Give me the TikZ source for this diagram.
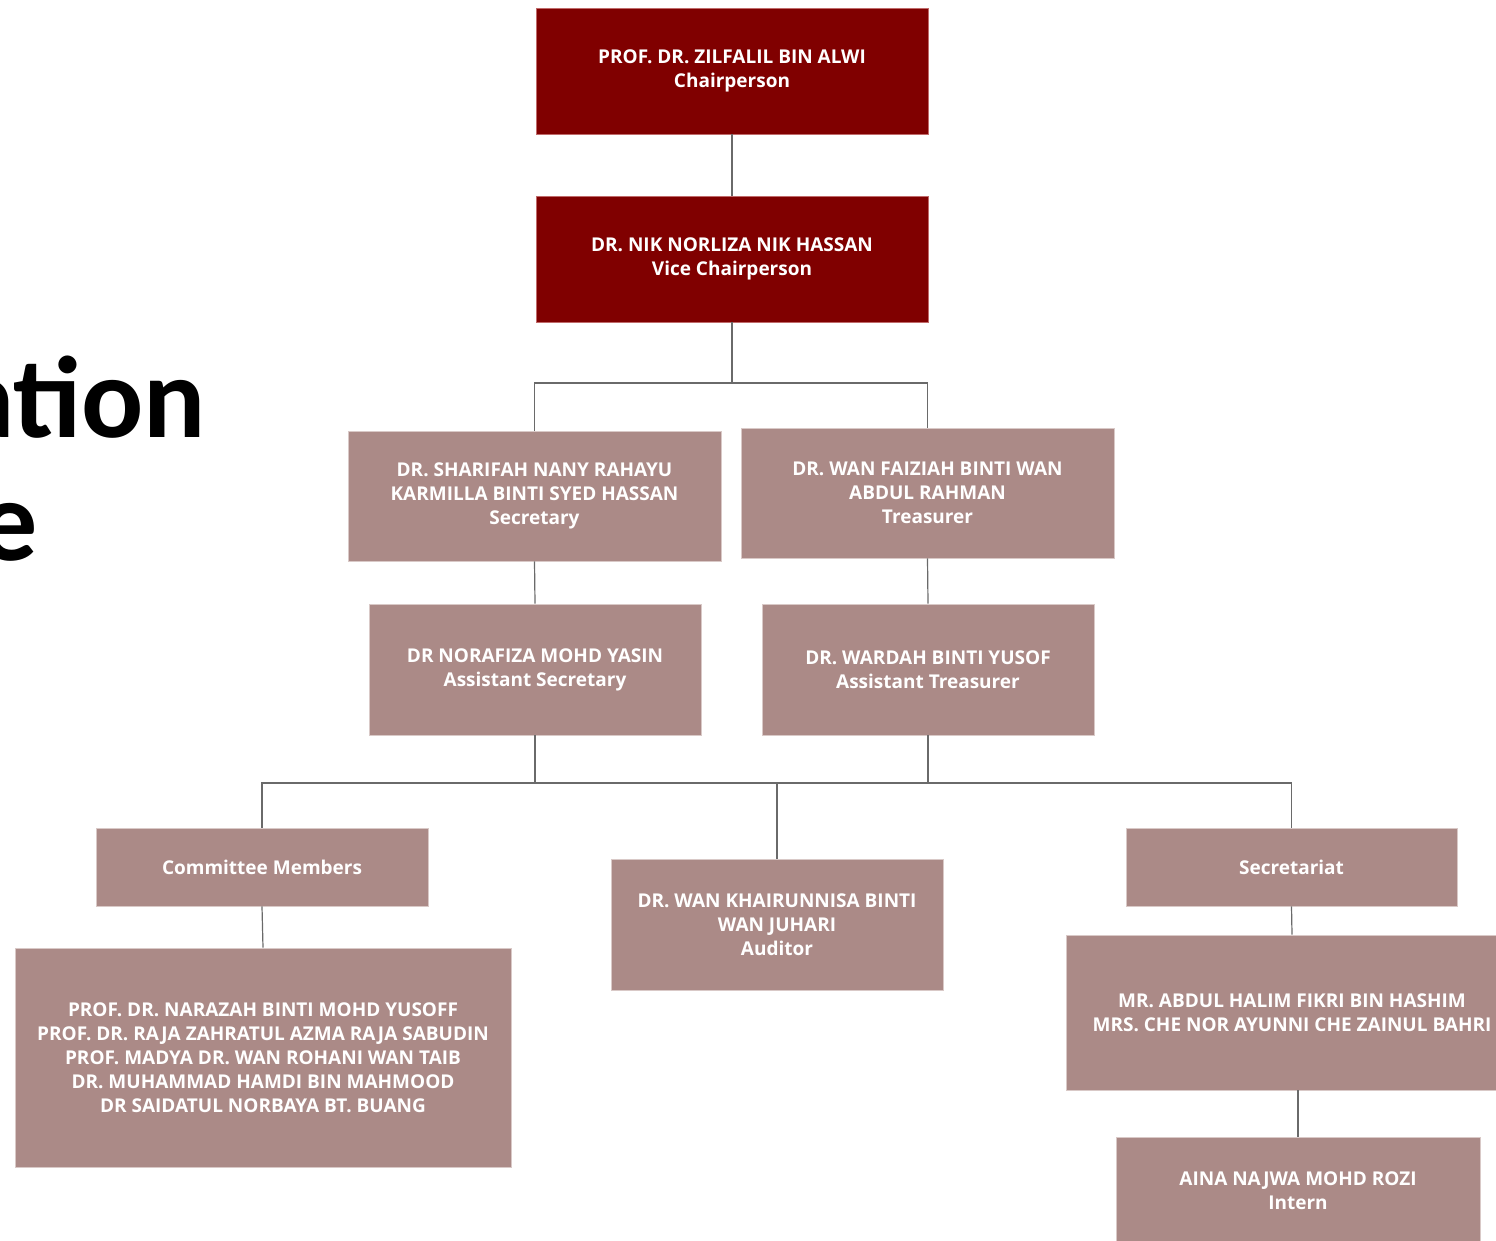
\documentclass[tikz,border=0pt]{standalone}
\usepackage{fontspec}
\usepackage{xcolor}
\setmainfont{Open Sans}
\newfontfamily\titlefont{Carlito}
\definecolor{headred}{HTML}{800000}
\definecolor{headedge}{HTML}{C06A6A}
\definecolor{mauve}{HTML}{AB8A87}
\definecolor{mauveedge}{HTML}{D9C9C7}
\definecolor{linkgray}{HTML}{6A6A6A}
\tikzset{
  headbox/.style={fill=headred, draw=headedge, line width=0.8pt, text=white,
    font=\fontsize{19}{24}\selectfont\bfseries, align=center, inner sep=0pt},
  memberbox/.style={fill=mauve, draw=mauveedge, line width=0.8pt, text=white,
    font=\fontsize{19}{24}\selectfont\bfseries, align=center, inner sep=0pt},
  link/.style={draw=linkgray, line width=1.2pt},
  titletext/.style={anchor=base east, inner sep=0pt,
    font=\titlefont\fontsize{116}{116}\selectfont\bfseries}
}
\begin{document}
\begin{tikzpicture}[x=1pt,y=1pt,yscale=-1,xscale=1]
\useasboundingbox (0,0) rectangle (1496,1241);

% title, cut off at the left edge
\node (ttl1) [titletext] at (206,437) {ation};
\node (ttl2) [titletext] at (38,560) {e};

% boxes
\node (chair) [headbox, minimum width=392, minimum height=126] at (732,71) {PROF. DR. ZILFALIL BIN ALWI\\Chairperson};
\node (vice) [headbox, minimum width=392, minimum height=126] at (732,259) {DR. NIK NORLIZA NIK HASSAN\\Vice Chairperson};
\node (sec) [memberbox, minimum width=373, minimum height=130] at (534.5,496) {DR. SHARIFAH NANY RAHAYU\\KARMILLA BINTI SYED HASSAN\\Secretary};
\node (treas) [memberbox, minimum width=373, minimum height=130] at (927.5,493) {DR. WAN FAIZIAH BINTI WAN\\ABDUL RAHMAN\\Treasurer};
\node (asec) [memberbox, minimum width=332, minimum height=131] at (535,669.5) {DR NORAFIZA MOHD YASIN\\Assistant Secretary};
\node (atreas) [memberbox, minimum width=332, minimum height=131] at (928,669.5) {DR. WARDAH BINTI YUSOF\\Assistant Treasurer};
\node (comm) [memberbox, minimum width=332, minimum height=78] at (262,867) {Committee Members};
\node (audit) [memberbox, minimum width=332, minimum height=131] at (777,924.5) {DR. WAN KHAIRUNNISA BINTI\\WAN JUHARI\\Auditor};
\node (secr) [memberbox, minimum width=331, minimum height=78] at (1291.5,867) {Secretariat};
\node (list) [memberbox, minimum width=496, minimum height=219] at (263,1057.5) {PROF. DR. NARAZAH BINTI MOHD YUSOFF\\PROF. DR. RAJA ZAHRATUL AZMA RAJA SABUDIN\\PROF. MADYA DR. WAN ROHANI WAN TAIB\\DR. MUHAMMAD HAMDI BIN MAHMOOD\\DR SAIDATUL NORBAYA BT. BUANG};
\node (staff) [memberbox, minimum width=452, minimum height=155] at (1292,1012.5) {MR. ABDUL HALIM FIKRI BIN HASHIM\\MRS. CHE NOR AYUNNI CHE ZAINUL BAHRI};
\node (intern) [memberbox, minimum width=364, minimum height=108] at (1298,1191) {AINA NAJWA MOHD ROZI\\Intern};

% junctions
\coordinate (bus1) at (732,383);
\coordinate (bus2) at (777,783);

% connectors
\draw [link] (chair.south) -- (vice.north);
\draw [link] (vice.south) -- (bus1);
\draw [link] (sec.north) |- (bus1) -| (treas.north);
\draw [link] (sec.south) -- (asec.north);
\draw [link] (treas.south) -- (atreas.north);
\draw [link] (asec.south) -- (asec.south |- bus2);
\draw [link] (atreas.south) -- (atreas.south |- bus2);
\draw [link] (comm.north) |- (bus2) -| (secr.north);
\draw [link] (bus2) -- (audit.north);
\draw [link] (comm.south) -- (list.north);
\draw [link] (secr.south) -- (staff.north);
\draw [link] (intern.north) -- (intern.north |- staff.south);
\end{tikzpicture}
\end{document}
